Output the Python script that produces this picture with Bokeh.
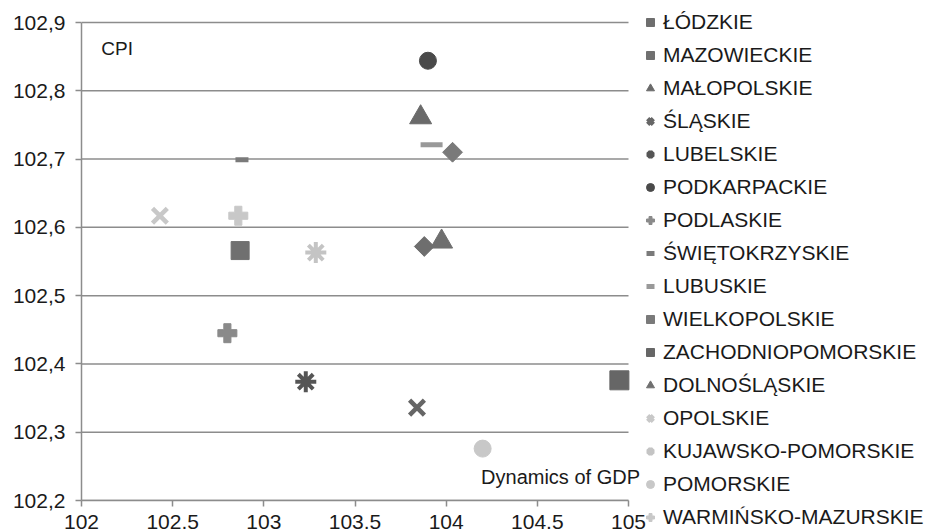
from bokeh.plotting import figure
from bokeh.models import (Legend, LegendItem, Range1d, FixedTicker, CustomJSTickFormatter,
                          Label, ColumnDataSource)
from bokeh.embed import file_html
from bokeh.resources import INLINE
import numpy as np

regions = ["ŁÓDZKIE", "MAZOWIECKIE", "MAŁOPOLSKIE", "ŚLĄSKIE", "LUBELSKIE",
           "PODKARPACKIE", "PODLASKIE", "ŚWIĘTOKRZYSKIE", "LUBUSKIE", "WIELKOPOLSKIE",
           "ZACHODNIOPOMORSKIE", "DOLNOŚLĄSKIE", "OPOLSKIE", "KUJAWSKO-POMORSKIE",
           "POMORSKIE", "WARMIŃSKO-MAZURSKIE"]
gdp = [103.88, 102.87, 103.86, 103.84, 103.23,
       103.90, 102.80, 102.88, 103.92, 104.035,
       104.95, 103.975, 102.43, 103.285,
       104.20, 102.86]
cpi = [102.572, 102.566, 102.761, 102.336, 102.374,
       102.844, 102.445, 102.699, 102.721, 102.710,
       102.376, 102.579, 102.617, 102.563,
       102.276, 102.617]

x_ticks = [102, 102.5, 103, 103.5, 104, 104.5, 105]
y_ticks = [102.2, 102.3, 102.4, 102.5, 102.6, 102.7, 102.8, 102.9]
x_min, x_max = 102, 105
y_min, y_max = 102.2, 102.9

# marker styles (marker, size, angle, fill, line, line_width)
styles = [
    ("square", 14, np.pi / 4, "#6e6e6e", "#6e6e6e", 1),
    ("square", 18, 0, "#707070", "#707070", 1),
    ("triangle", 22, 0, "#6a6a6a", "#6a6a6a", 1),
    ("x", 21, 0, "#666666", "#666666", 4.5),
    ("asterisk", 21, 0, "#555555", "#555555", 4),
    ("circle", 17, 0, "#4a4a4a", "#4a4a4a", 1),
    ("plus", 19, 0, "#8a8a8a", "#8a8a8a", 1),
    ("dash", 13, 0, "#7a7a7a", "#7a7a7a", 5),
    ("dash", 22, 0, "#999999", "#999999", 5),
    ("square", 14, np.pi / 4, "#7a7a7a", "#7a7a7a", 1),
    ("square", 19, 0, "#666666", "#666666", 1),
    ("triangle", 22, 0, "#6f6f6f", "#6f6f6f", 1),
    ("x", 21, 0, "#c8c8c8", "#c8c8c8", 4.5),
    ("asterisk", 21, 0, "#c4c4c4", "#c4c4c4", 4),
    ("circle", 17, 0, "#c8c8c8", "#c8c8c8", 1),
    ("plus", 19, 0, "#c8c8c8", "#c8c8c8", 1),
]

FONT = "Liberation Sans"
PX_PER_UNIT_X = 547 / (x_max - x_min)
PX_PER_UNIT_Y = 478 / (y_max - y_min)
FRAME_W = 564  # extra room on the right for the "Dynamics of GDP" caption
TOP_PAD = 3    # a few px above 102.9 so the top gridline is fully visible

p = figure(frame_width=FRAME_W, frame_height=478 + TOP_PAD, output_backend="svg",
           toolbar_location=None,
           x_range=Range1d(x_min, x_min + FRAME_W / PX_PER_UNIT_X),
           y_range=Range1d(y_min, y_max + TOP_PAD / PX_PER_UNIT_Y),
           min_border_left=81, min_border_top=22 - TOP_PAD, min_border_right=0,
           min_border_bottom=0)
p.outline_line_color = None
p.background_fill_color = "white"
p.xgrid.grid_line_color = None
p.ygrid.grid_line_color = None

# horizontal gridlines across the data range only
p.segment(x0=[x_min] * len(y_ticks), y0=y_ticks, x1=[x_max] * len(y_ticks), y1=y_ticks,
          line_color="#8c8c8c", line_width=1.5)

p.xaxis.ticker = FixedTicker(ticks=x_ticks)
p.yaxis.ticker = FixedTicker(ticks=y_ticks)
p.xaxis.bounds = (x_min, x_max)
p.yaxis.bounds = (y_min, y_max)
p.xaxis.formatter = CustomJSTickFormatter(code="return String(Math.round(tick*10)/10);")
p.yaxis.formatter = CustomJSTickFormatter(code="return tick.toFixed(1).replace('.', ',');")
for ax in (p.xaxis, p.yaxis):
    ax.axis_line_color = "#8c8c8c"
    ax.axis_line_width = 1.5
    ax.major_tick_line_color = "#8c8c8c"
    ax.major_tick_line_width = 1.5
    ax.major_tick_out = 6
    ax.major_tick_in = 0
    ax.minor_tick_line_color = None
    ax.major_label_text_font = FONT
    ax.major_label_text_font_size = "21px"
    ax.major_label_text_color = "#1a1a1a"
p.yaxis.major_label_standoff = 10
p.xaxis.major_label_standoff = 8

items = []
for i, name in enumerate(regions):
    m, s, a, fc, lc, lw = styles[i]
    src = ColumnDataSource(dict(x=[gdp[i]], y=[cpi[i]]))
    r = p.scatter("x", "y", source=src, marker=m, size=s, angle=a,
                  fill_color=fc, line_color=lc, line_width=lw)
    items.append(LegendItem(label=name, renderers=[r]))

legend = Legend(items=items, location=(-5, -29), orientation="vertical",
                label_text_font=FONT, label_text_font_size="21px",
                label_text_color="#1a1a1a", glyph_width=20, glyph_height=20,
                label_height=20, spacing=9, padding=0, margin=0,
                label_standoff=3, border_line_color=None,
                background_fill_alpha=0)
p.add_layout(legend, "right")

p.add_layout(Label(x=102.109, y=102.862, text="CPI", text_font=FONT,
                   text_font_size="19px", text_color="#1a1a1a",
                   text_baseline="middle"))
p.add_layout(Label(x=105.063, y=102.235, text="Dynamics of GDP", text_font=FONT,
                   text_font_size="20px", text_color="#1a1a1a",
                   text_align="right", text_baseline="middle"))

open("out.html", "w").write(file_html(p, INLINE))
